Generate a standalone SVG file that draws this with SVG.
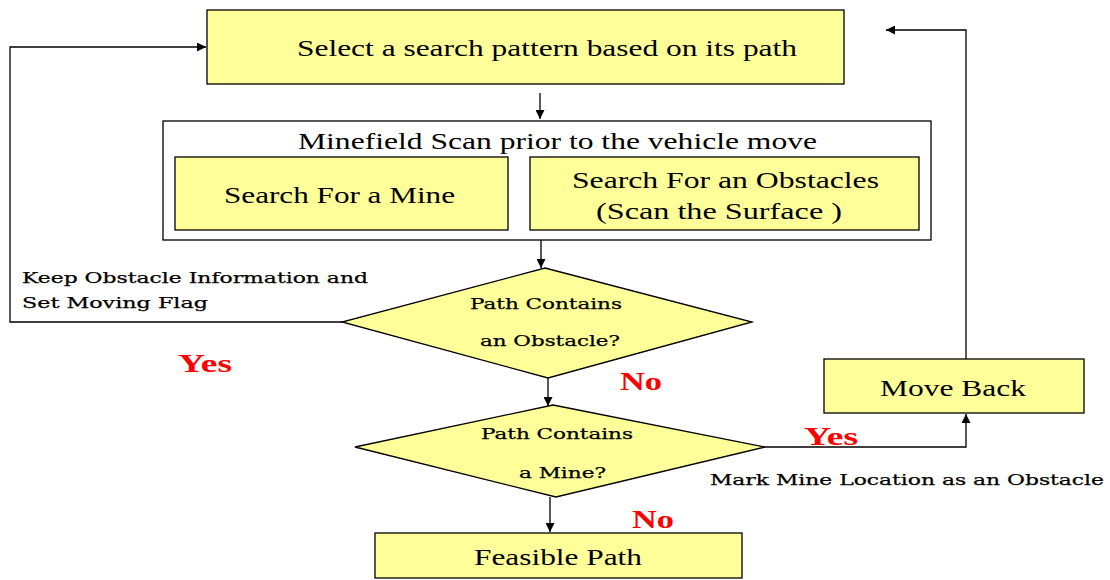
<svg xmlns="http://www.w3.org/2000/svg" width="1110" height="580" viewBox="0 0 1110 580">
  <defs>
    <marker id="arrow" viewBox="0 0 10 10" refX="10" refY="5" markerWidth="9" markerHeight="9" markerUnits="userSpaceOnUse" orient="auto">
      <path d="M0,0 L10,5 L0,10 z" fill="#000"/>
    </marker>
    <style>
      .box { fill: #FFFF99; stroke: #000; stroke-width: 1.3; }
      .frame { fill: #fff; stroke: #000; stroke-width: 1.3; }
      .line { fill: none; stroke: #000; stroke-width: 1.3; }
      .t { font-family: "Liberation Serif", serif; font-size: 24px; fill: #000; }
      .d { font-family: "DejaVu Serif", "Liberation Serif", serif; font-size: 15px; fill: #000; stroke: #000; stroke-width: 0.25; }
      .lbl { font-family: "Liberation Serif", serif; font-size: 26px; font-weight: bold; fill: #FF0000; }
    </style>
  </defs>

  <rect width="1110" height="580" fill="#fff"/>

  <!-- connectors -->
  <g id="connectors">
    <path class="line" d="M540,93 V119" marker-end="url(#arrow)"/>
    <path class="line" d="M541,240 V268" marker-end="url(#arrow)"/>
    <path class="line" d="M548,378 V406" marker-end="url(#arrow)"/>
    <path class="line" d="M550,497 V532" marker-end="url(#arrow)"/>
    <!-- obstacle found: back to pattern selection -->
    <path class="line" d="M342,322 H10 V47 H206" marker-end="url(#arrow)"/>
    <!-- mine found: move back -->
    <path class="line" d="M765,447 H966 V414" marker-end="url(#arrow)"/>
    <!-- after moving back: reselect pattern -->
    <path class="line" d="M966,359 V30 H886" marker-end="url(#arrow)"/>
  </g>

  <g id="select-pattern">
    <rect class="box" x="207" y="10" width="637" height="74"/>
    <text class="t" x="297" y="56" textLength="500" lengthAdjust="spacingAndGlyphs">Select a search pattern based on its path</text>
  </g>

  <g id="minefield-scan">
    <rect class="frame" x="163" y="121" width="768" height="119"/>
    <text class="t" x="298" y="149" textLength="519" lengthAdjust="spacingAndGlyphs">Minefield Scan prior to the vehicle move</text>
  </g>

  <g id="search-mine">
    <rect class="box" x="175" y="157" width="333" height="73"/>
    <text class="t" x="224" y="203" textLength="231" lengthAdjust="spacingAndGlyphs">Search For a Mine</text>
  </g>

  <g id="search-obstacles">
    <rect class="box" x="530" y="157" width="389" height="73"/>
    <text class="t" x="572" y="188" textLength="307" lengthAdjust="spacingAndGlyphs">Search For an Obstacles</text>
    <text class="t" x="596" y="219" textLength="246" lengthAdjust="spacingAndGlyphs">(Scan the Surface )</text>
  </g>

  <g id="obstacle-decision">
    <polygon class="box" points="545,268 752,322 548,378 342,322"/>
    <text class="d" x="470" y="309" textLength="152" lengthAdjust="spacingAndGlyphs">Path Contains</text>
    <text class="d" x="480" y="346" textLength="140" lengthAdjust="spacingAndGlyphs">an Obstacle?</text>
  </g>

  <g id="mine-decision">
    <polygon class="box" points="553,405 765,447 556,497 355,447"/>
    <text class="d" x="481" y="439" textLength="152" lengthAdjust="spacingAndGlyphs">Path Contains</text>
    <text class="d" x="519" y="478" textLength="87" lengthAdjust="spacingAndGlyphs">a Mine?</text>
  </g>

  <g id="move-back">
    <rect class="box" x="824" y="359" width="260" height="54"/>
    <text class="t" x="880" y="396" textLength="146" lengthAdjust="spacingAndGlyphs">Move Back</text>
  </g>

  <g id="feasible-path">
    <rect class="box" x="375" y="533" width="367" height="45"/>
    <text class="t" x="474" y="565" textLength="168" lengthAdjust="spacingAndGlyphs">Feasible Path</text>
  </g>

  <!-- branch notes and labels -->
  <g id="labels">
    <text class="d" x="22" y="283" textLength="346" lengthAdjust="spacingAndGlyphs">Keep Obstacle Information and</text>
    <text class="d" x="22" y="308" textLength="186" lengthAdjust="spacingAndGlyphs">Set Moving Flag</text>
    <text class="d" x="710" y="485" textLength="394" lengthAdjust="spacingAndGlyphs">Mark Mine Location as an Obstacle</text>
    <text class="lbl" x="178" y="372" textLength="54" lengthAdjust="spacingAndGlyphs">Yes</text>
    <text class="lbl" x="620" y="390" textLength="42" lengthAdjust="spacingAndGlyphs">No</text>
    <text class="lbl" x="804" y="445" textLength="54" lengthAdjust="spacingAndGlyphs">Yes</text>
    <text class="lbl" x="632" y="528" textLength="42" lengthAdjust="spacingAndGlyphs">No</text>
  </g>
</svg>
